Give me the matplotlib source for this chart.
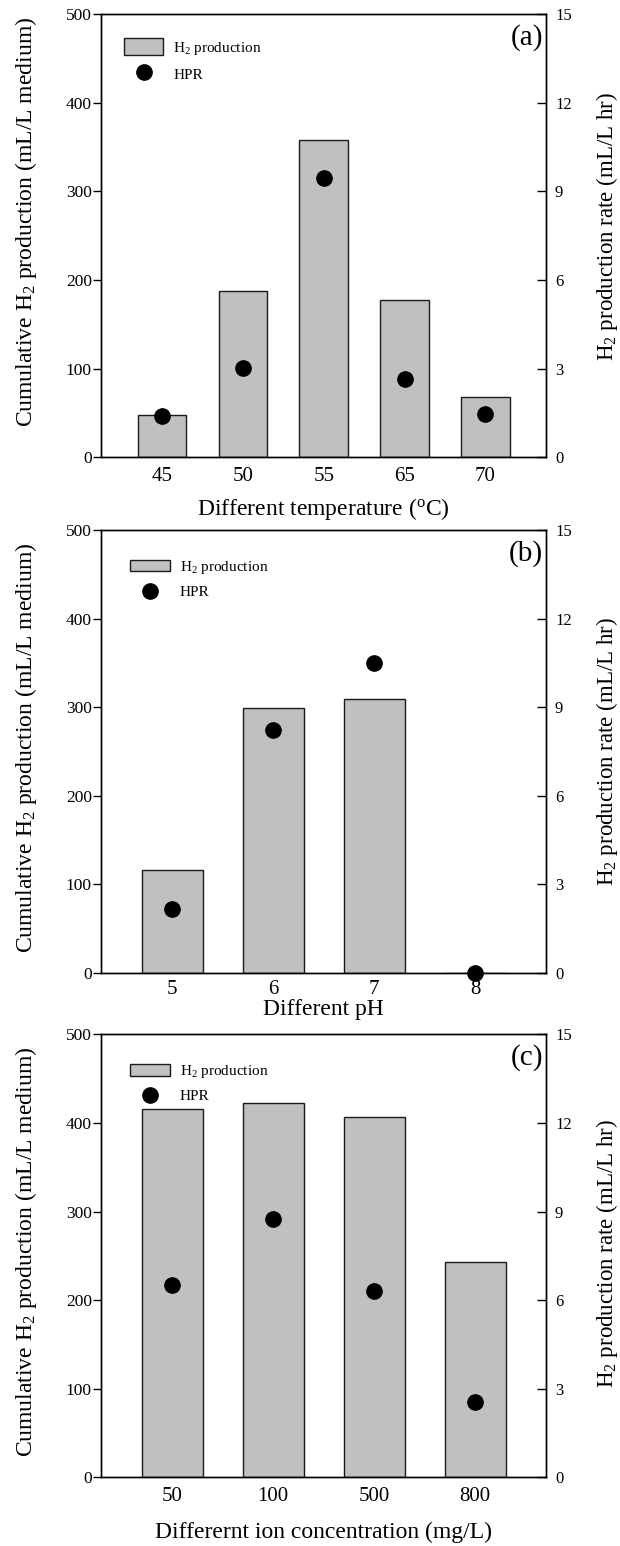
import matplotlib
matplotlib.use("Agg")
import matplotlib.pyplot as plt
import numpy as np

plt.rcParams['font.family'] = ['Liberation Serif', 'DejaVu Serif']
plt.rcParams['mathtext.fontset'] = 'custom'
plt.rcParams['mathtext.rm'] = 'Liberation Serif'
plt.rcParams['mathtext.it'] = 'Liberation Serif:italic'
plt.rcParams['axes.linewidth'] = 1.0

# ─── data ─────────────────────────────────────────────
temp_labels = ['45', '50', '55', '65', '70']
temp_h2 = [48, 188, 358, 177, 68]          # mL/L medium
temp_hpr = [1.40, 3.01, 9.47, 2.65, 1.48]  # mL/L hr

ph_labels = ['5', '6', '7', '8']
ph_h2 = [116, 299, 309, 0]
ph_hpr = [2.18, 8.22, 10.50, 0.0]

ion_labels = ['50', '100', '500', '800']
ion_h2 = [416, 422, 407, 243]
ion_hpr = [6.50, 8.74, 6.32, 2.56]

BAR_COLOR = '#c0c0c0'
LEFT_LABEL = 'Cumulative H$_2$ production (mL/L medium)'
RIGHT_LABEL = 'H$_2$ production rate (mL/L hr)'

fig = plt.figure(figsize=(6.2, 15.46), dpi=100)

panels = [
    # labels, h2, hpr, xlabel, tag, axes bottom, tick pad, label pad,
    # legend handle height, left/right ylabel height
    (temp_labels, temp_h2, temp_hpr, 'Different temperature ($^{\\rm o}$C)', '(a)',
     0.7042, 7, 7, 1.36, (0.532, 0.52)),
    (ph_labels, ph_h2, ph_hpr, 'Different pH', '(b)',
     0.3706, 5, 0, 0.82, (0.509, 0.50)),
    (ion_labels, ion_h2, ion_hpr, 'Differernt ion concentration (mg/L)', '(c)',
     0.0444, 7, 11, 0.82, (0.51, 0.505)),
]

for labels, h2, hpr, xlabel, tag, bottom, tpad, lpad, hh, ylab_y in panels:
    ax = fig.add_axes([0.1637, bottom, 0.7169, 0.2866])
    x = np.arange(len(labels))

    bars = ax.bar(x, h2, width=0.6, color=BAR_COLOR, edgecolor='#1a1a1a',
                  linewidth=1.0, zorder=2)
    margin = 0.75 if len(labels) == 5 else 0.70
    ax.set_xlim(-margin, len(labels) - 1 + margin)
    ax.set_ylim(0, 500)
    ax.set_yticks(np.arange(0, 501, 100))
    ax.set_xticks(x)
    ax.set_xticklabels(labels)
    ax.tick_params(axis='x', length=0, labelsize=15, pad=tpad)
    ax.tick_params(axis='y', direction='out', length=6, width=1.0,
                   labelsize=12.5, pad=1)
    ax.set_xlabel(xlabel, fontsize=17, labelpad=lpad)
    ax.set_ylabel(LEFT_LABEL, fontsize=17)
    ax.yaxis.set_label_coords(-0.140, ylab_y[0])

    ax2 = ax.twinx()
    ax2.set_ylim(0, 15)
    ax2.set_yticks(np.arange(0, 16, 3))
    ax2.tick_params(axis='y', direction='in', length=6.5, width=1.0,
                    labelsize=12, pad=6.5)
    dots, = ax2.plot(x, hpr, 'o', color='black', ms=11, clip_on=False,
                     zorder=5)
    ax2.set_ylabel(RIGHT_LABEL, fontsize=16.5)
    ax2.yaxis.set_label_coords(1.108, ylab_y[1])

    ax.text(0.994, 0.978, tag, transform=ax.transAxes, ha='right', va='top',
            fontsize=21)

    ax2.legend([bars, dots], ['H$_2$ production', 'HPR'], loc='upper left',
               bbox_to_anchor=(0.05 if tag == '(a)' else 0.064,
                               0.946 if tag == '(a)' else 0.935),
               frameon=False, fontsize=11, borderpad=0, borderaxespad=0,
               handlelength=2.6, handleheight=hh, handletextpad=0.65,
               labelspacing=0.55 if tag == '(a)' else 0.6)

fig.savefig('out.png', dpi=100)
